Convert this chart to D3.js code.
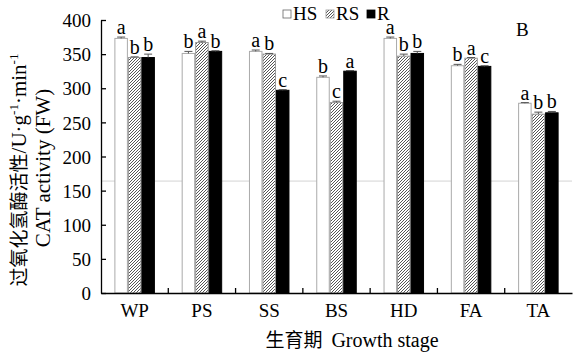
<!DOCTYPE html>
<html lang="zh">
<head>
<meta charset="UTF-8" />
<title>CAT activity</title>
<script src="https://d3js.org/d3.v7.min.js"></script>
<style>
  body { margin: 0; background: #fff; }
</style>
</head>
<body>
<svg id="chart" width="573" height="354"></svg>
<script>
// data
var stages = ["WP", "PS", "SS", "BS", "HD", "FA", "TA"];
var series = ["HS", "RS", "R"];
var hsValues = [373, 351, 354, 316, 373, 333, 278];
var rsValues = [345, 367, 350, 279, 347, 344, 262];
var rValues  = [345, 354, 297, 325, 351, 332, 264];
var hsErr = [2, 3, 2, 2, 2, 2, 1];
var rsErr = [1, 2, 1, 2, 3, 1, 3];
var rErr  = [5, 1, 1, 1, 3, 1, 2];
var hsLetters = ["a", "b", "a", "b", "a", "b", "a"];
var rsLetters = ["b", "a", "b", "c", "b", "a", "b"];
var rLetters  = ["b", "b", "c", "a", "b", "c", "b"];
var yTicks = [0, 50, 100, 150, 200, 250, 300, 350, 400];

var values = [hsValues, rsValues, rValues];
var errs = [hsErr, rsErr, rErr];
var letters = [hsLetters, rsLetters, rLetters];

(function () {
  var serif = "'Liberation Serif', 'Times New Roman', serif";
  var cjk = "'Noto Sans CJK SC', sans-serif";
  var svg = d3.select("#chart");
  var plotL = 101, plotR = 572, plotT = 20, plotB = 293;

  var defs = svg.append("defs");
  var pat = defs.append("pattern")
    .attr("id", "hatch")
    .attr("patternUnits", "userSpaceOnUse")
    .attr("width", 3).attr("height", 3);
  pat.append("rect").attr("width", 3).attr("height", 3).attr("fill", "#fff");
  pat.append("path")
    .attr("d", "M-1,1 L1,-1 M0,3 L3,0 M2,4 L4,2")
    .attr("stroke", "#555").attr("stroke-width", 1);

  var x = d3.scaleBand().domain(stages).range([plotL, plotR]).paddingInner(0).paddingOuter(0);
  var y = d3.scaleLinear().domain([0, 400]).range([plotB, plotT]);
  var barW = 13.5;
  var groupW = barW * 3;

  function barX(stage, s) {
    return x(stage) + (x.bandwidth() - groupW) / 2 + s * barW;
  }

  var fills = ["#fff", "url(#hatch)", "#000"];
  var strokes = ["#aaa", "#999", "#000"];

  // faint scan line seen in the figure
  svg.append("line")
    .attr("x1", plotL).attr("x2", plotR)
    .attr("y1", y(164)).attr("y2", y(164))
    .attr("stroke", "#888").attr("stroke-width", 0.6).attr("opacity", 0.6);

  series.forEach(function (name, s) {
    var g = svg.append("g");
    g.selectAll("rect")
      .data(stages)
      .enter()
      .append("rect")
      .attr("x", function (d) { return barX(d, s) + 0.5; })
      .attr("y", function (d, i) { return y(values[s][i]); })
      .attr("width", barW - 1)
      .attr("height", function (d, i) { return plotB - y(values[s][i]); })
      .attr("fill", fills[s])
      .attr("stroke", strokes[s])
      .attr("stroke-width", 1);

    // error bars
    g.selectAll("path.err")
      .data(stages)
      .enter()
      .append("path")
      .attr("class", "err")
      .attr("d", function (d, i) {
        var cx = barX(d, s) + barW / 2;
        var yt = y(values[s][i] + errs[s][i]);
        var yb = y(values[s][i]);
        return "M" + (cx - 4) + "," + yt + "H" + (cx + 4) + "M" + cx + "," + yt + "V" + yb;
      })
      .attr("stroke", "#555")
      .attr("stroke-width", 1)
      .attr("fill", "none");

    g.selectAll("text")
      .data(stages)
      .enter()
      .append("text")
      .attr("x", function (d) { return barX(d, s) + barW / 2; })
      .attr("y", function (d, i) { return y(values[s][i] + errs[s][i]) - 3; })
      .attr("text-anchor", "middle")
      .attr("font-family", serif)
      .attr("font-size", 20)
      .text(function (d, i) { return letters[s][i]; });
  });

  // axes
  var yAxis = d3.axisLeft(y).tickValues(yTicks).tickSizeInner(-5).tickSizeOuter(0).tickPadding(10);
  var gy = svg.append("g").attr("transform", "translate(" + plotL + ",0)").call(yAxis);
  gy.attr("font-family", serif).attr("font-size", 19);
  gy.selectAll("text").attr("fill", "#000").attr("dy", "0.35em");
  gy.selectAll("line, path").attr("stroke", "#000").attr("stroke-width", 1.3);

  var xAxis = d3.axisBottom(x).tickSize(0).tickPadding(11);
  var gx = svg.append("g").attr("transform", "translate(0," + plotB + ")").call(xAxis);
  gx.attr("font-family", serif).attr("font-size", 19);
  gx.selectAll("text").attr("fill", "#000");
  gx.select("path").attr("stroke", "#000").attr("stroke-width", 1.3);
  gx.selectAll(".sep")
    .data(stages.slice(1))
    .enter()
    .append("line")
    .attr("class", "sep")
    .attr("x1", function (d) { return x(d); })
    .attr("x2", function (d) { return x(d); })
    .attr("y1", 0).attr("y2", -5)
    .attr("stroke", "#000").attr("stroke-width", 1.3);

  // axis titles
  var yt = svg.append("text")
    .attr("transform", "translate(26,170) rotate(-90)")
    .attr("text-anchor", "middle")
    .attr("font-family", serif)
    .attr("font-size", 21);
  yt.append("tspan").attr("font-family", cjk).attr("font-size", 19).text("过氧化氢酶活性");
  yt.append("tspan").text("/U·g");
  yt.append("tspan").attr("font-size", 13).attr("dy", -8).text("-1");
  yt.append("tspan").attr("dy", 8).text("·min");
  yt.append("tspan").attr("font-size", 13).attr("dy", -8).text("-1");

  svg.append("text")
    .attr("transform", "translate(50,168) rotate(-90)")
    .attr("text-anchor", "middle")
    .attr("font-family", serif)
    .attr("font-size", 21)
    .text("CAT activity (FW)");

  var xt = svg.append("text")
    .attr("x", 352).attr("y", 347)
    .attr("text-anchor", "middle")
    .attr("font-family", serif)
    .attr("font-size", 20);
  xt.append("tspan").attr("font-family", cjk).attr("font-size", 19).text("生育期");
  xt.append("tspan").attr("dx", 9).text("Growth stage");

  // legend
  var legX = [283, 326, 367];
  var lg = svg.append("g");
  series.forEach(function (name, s) {
    lg.append("rect")
      .attr("x", legX[s]).attr("y", 10)
      .attr("width", 8).attr("height", 8)
      .attr("fill", fills[s])
      .attr("stroke", s === 0 ? "#666" : strokes[s])
      .attr("stroke-width", 0.8);
    lg.append("text")
      .attr("x", legX[s] + 10).attr("y", 20)
      .attr("font-family", serif)
      .attr("font-size", 19)
      .text(name);
  });

  svg.append("text")
    .attr("x", 516).attr("y", 36)
    .attr("font-family", serif)
    .attr("font-size", 19)
    .text("B");
})();
</script>
</body>
</html>
